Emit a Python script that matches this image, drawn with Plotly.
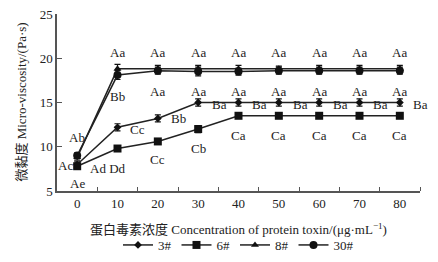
import plotly.graph_objects as go

conc = [0, 10, 20, 30, 40, 50, 60, 70, 80]
s3 = [8.0, 12.2, 13.2, 15.0, 15.0, 15.0, 15.0, 15.0, 15.0]
e3 = [0.3, 0.4, 0.4, 0.4, 0.4, 0.4, 0.4, 0.4, 0.4]
s6 = [7.8, 9.8, 10.6, 12.0, 13.5, 13.5, 13.5, 13.5, 13.5]
e6 = [0.3, 0.3, 0.3, 0.4, 0.3, 0.3, 0.3, 0.3, 0.3]
s8 = [8.8, 18.8, 18.8, 18.8, 18.8, 18.8, 18.8, 18.8, 18.8]
e8 = [0.3, 0.5, 0.4, 0.4, 0.4, 0.3, 0.4, 0.4, 0.4]
s30 = [9.0, 18.1, 18.6, 18.5, 18.5, 18.6, 18.6, 18.6, 18.6]
e30 = [0.3, 0.5, 0.4, 0.5, 0.4, 0.4, 0.4, 0.4, 0.4]

series_names = ["3#", "6#", "8#", "30#"]
symbols = ["diamond", "square", "triangle-up", "circle"]
sizes = [6, 8, 7, 8]

# letter labels (text, x, y)
label_text = (["Aa"] * 8 + ["Aa"] * 7 + ["Bb"] + ["Ba"] * 5 + ["Bb", "Cc", "Cc", "Cb"]
              + ["Ca"] * 5 + ["Ab", "Ac", "Ad Dd", "Ae"])
label_x = ([10, 20, 30, 40, 50, 60, 70, 80] + [20, 30, 40, 50, 60, 70, 80] + [10]
           + [35.3, 45.3, 55.3, 65.3, 75.3] + [25, 15, 20, 30]
           + [40, 50, 60, 70, 80] + [0, -2.8, 7.6, 0])
label_y = ([20.6] * 8 + [16.3] * 7 + [15.7] + [14.8] * 5 + [13.2, 12.0, 8.6, 9.8]
           + [11.3] * 5 + [11.0, 7.9, 7.55, 5.9])
# last "Ba" label sits just past the right end of the axis
edge_label = ("Ba", 14.8)
y_title = "微黏度 Micro-viscosity/(Pa·s)"
x_title = "蛋白毒素浓度 Concentration of protein toxin/(μg·mL<sup>−1</sup>)"

FONT = "Liberation Serif, Times New Roman, Noto Sans CJK SC, serif"
LINE = "#222222"

fig = go.Figure()
for name, ys, es, sym, sz in zip(series_names, [s3, s6, s8, s30], [e3, e6, e8, e30], symbols, sizes):
    fig.add_trace(go.Scatter(
        x=conc, y=ys, name=name, mode="lines+markers",
        line=dict(color=LINE, width=1.5),
        marker=dict(symbol=sym, size=sz, color="#111111"),
        error_y=dict(type="data", array=es, visible=True, color="#111111", thickness=1.2, width=3),
    ))

for t, x, y in zip(label_text, label_x, label_y):
    fig.add_annotation(x=x, y=y, text=t, showarrow=False,
                       font=dict(family=FONT, size=13, color="#222"))
fig.add_annotation(x=1.0, xref="paper", y=edge_label[1], yref="y", text=edge_label[0],
                   showarrow=False, xanchor="center",
                   font=dict(family=FONT, size=13, color="#222"))
fig.add_annotation(x=-0.099, xref="paper", y=0.5, yref="paper", text=y_title,
                   textangle=-90, showarrow=False, xanchor="center", yanchor="middle",
                   font=dict(family=FONT, size=13, color="#222"))

fig.update_layout(
    width=438, height=262,
    margin=dict(l=57, r=18, t=14, b=71, autoexpand=False),
    paper_bgcolor="white", plot_bgcolor="white",
    font=dict(family=FONT, size=13, color="#222"),
    showlegend=True,
    legend=dict(orientation="h", x=0.5, xanchor="center", y=-0.305, yanchor="middle",
                font=dict(family=FONT, size=13), itemwidth=30, tracegroupgap=0),
)
fig.update_xaxes(
    range=[-5, 85], tickvals=conc, ticktext=[str(c) for c in conc], ticks="",
    ticklabelstandoff=0, automargin=False,
    showline=True, linecolor="#555", linewidth=1.5, showgrid=False, zeroline=False,
    minor=dict(tickmode="array", tickvals=[5, 15, 25, 35, 45, 55, 65, 75, 85],
               ticks="inside", ticklen=4, tickcolor="#555", showgrid=False),
    tickfont=dict(family=FONT, size=13),
    title=dict(text=x_title, font=dict(family=FONT, size=13)),
)
fig.update_yaxes(
    range=[5, 25], dtick=5, ticks="inside", ticklen=5, tickcolor="#555",
    automargin=False,
    showline=True, linecolor="#555", linewidth=1.5, showgrid=False, zeroline=False,
    tickfont=dict(family=FONT, size=13),
)

fig.write_html("out.html", config={"displayModeBar": False},
               post_script="document.body.style.margin='0';")
